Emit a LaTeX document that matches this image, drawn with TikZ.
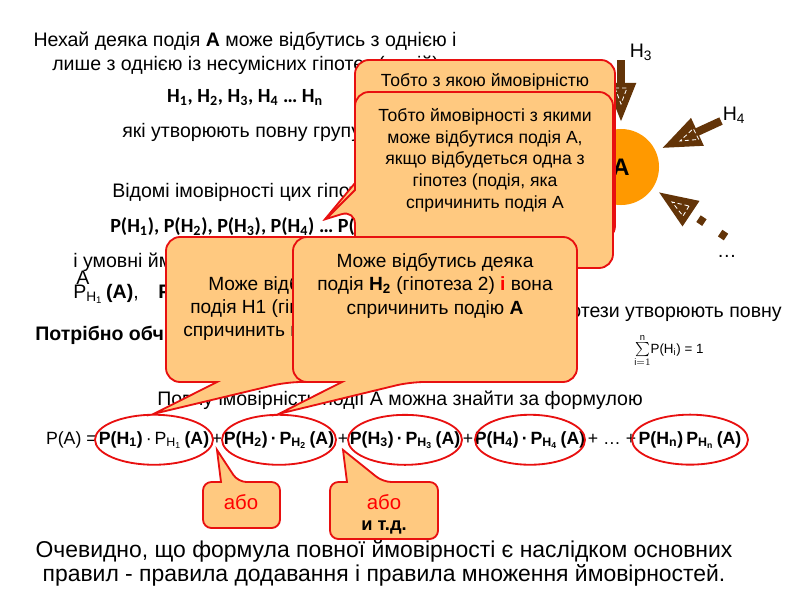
\documentclass[tikz,border=0pt]{standalone}
\usepackage{fontspec}
\setmainfont{Liberation Sans}
\newfontfamily\calibri{Carlito}
\usetikzlibrary{arrows.meta,positioning,calc,shapes.geometric}
\definecolor{bubblefill}{RGB}{255,201,128}
\definecolor{bubbleline}{RGB}{232,16,16}
\definecolor{eventA}{RGB}{255,153,0}
\definecolor{hypo}{RGB}{99,52,8}
\newcommand{\hsub}[1]{H\textsubscript{#1}}
\newcommand{\phsub}[1]{P\textsubscript{H\textsubscript{#1}}}

\begin{document}
\begin{tikzpicture}[x=0.025cm, y=-0.025cm,
  txt/.style={inner sep=0pt, font=\fontsize{13.9}{16}\selectfont},
  term/.style={inner sep=0pt, anchor=base, font=\fontsize{12.6}{15}\selectfont},
  hyp/.style={inner sep=0pt, font=\calibri\bfseries\fontsize{14.3}{16}\selectfont},
  bubble/.style={fill=bubblefill, draw=bubbleline, line width=1.3pt},
  btxt/.style={inner sep=0pt, align=center, font=\fontsize{12.5}{15.3}\selectfont},
  oval/.style={draw=bubbleline, line width=1.3pt},
  hyparrow/.style={draw=hypo, line width=5.7pt, -{Triangle[length=28pt,width=20pt]}, shorten >=4.6pt},
  headmark/.style={draw=white, line width=0.6pt, densely dashed},
]
\useasboundingbox (0,0) rectangle (800,600);

% text of the slide
\node[txt, anchor=base] (intro) at (245,46) {Нехай деяка подія \textbf{А} може відбутись з однією і};
\node[txt, anchor=base west] (intro2) at (52,70) {лише з однією із несумісних гіпотез (подій)};
\node[hyp, anchor=base] (hlist) at (245,102) {\hsub{1}, \hsub{2}, \hsub{3}, \hsub{4} … \hsub{n}};
\node[txt, anchor=base west] (group1) at (122,137) {які утворюють повну групу};
\node[txt, anchor=base west] (known) at (112,197) {Відомі імовірності цих гіпотез};
\node[hyp, anchor=base west] (plist) at (110,232) {P(\hsub{1}), P(\hsub{2}), P(\hsub{3}), P(\hsub{4}) … P(\hsub{n})};
\node[txt, anchor=base west] (cond) at (73,267) {і умовні ймовірності};
\node[txt, anchor=base west] (condA) at (76,284) {А};
\node[txt, anchor=base west] (clist) at (73,298) {\phsub{1}\,\textbf{(A)},\quad \textbf{\phsub{2}}};
\node[txt, anchor=base west, font=\bfseries\fontsize{13.9}{16}\selectfont] (need) at (35,340) {Потрібно обчислити};
\node[txt, anchor=base east] (group2) at (782,317) {Гіпотези утворюють повну};
\node[txt, anchor=base west, font=\fontsize{9.5}{11}\selectfont] (norm) at (634,353) {$\sum\limits_{\mathrm{i}=1}^{\mathrm{n}}$P(H\textsubscript{i}) = 1};
\node[txt, anchor=base west] (total) at (157,405) {Повну імовірність події А можна знайти за формулою};

% formula
\node[term, anchor=base east] (PA) at (97,444) {P(A) =};
\node[term] (t1) at (154,444) {\textbf{P(\hsub{1})}\,·\,\phsub{1}\,\textbf{(A)}};
\node[term] (p1) at (217,444) {+};
\node[term] (t2) at (279,444) {\textbf{P(\hsub{2})\,·\,\phsub{2}\,(A)}};
\node[term] (p2) at (343,444) {+};
\node[term] (t3) at (405,444) {\textbf{P(\hsub{3})\,·\,\phsub{3}\,(A)}};
\node[term] (p3) at (468,444) {+};
\node[term] (t4) at (530,444) {\textbf{P(\hsub{4})\,·\,\phsub{4}\,(A)}};
\node[term] (p4) at (612,444) {+ … +};
\node[term] (t5) at (690,444) {\textbf{P(\hsub{n})\,\phsub{n}\,(A)}};
\draw[oval] (t1.center) ellipse [x radius=59, y radius=25];
\draw[oval] (t2.center) ellipse [x radius=57, y radius=25];
\draw[oval] (t3.center) ellipse [x radius=57, y radius=25];
\draw[oval] (t4.center) ellipse [x radius=55, y radius=25];
\draw[oval] (t5.center) ellipse [x radius=58, y radius=25];
\coordinate (e1top) at ($(t1.center)+(0,-26)$);
\coordinate (e2top) at ($(t2.center)+(0,-26)$);

% event A and hypotheses
\node[circle, fill=eventA, minimum size=1.9cm, inner sep=0pt, font=\bfseries\fontsize{17}{20}\selectfont] (A) at (621,167) {A};
\coordinate (h3tail) at (621,60);
\coordinate (h4tail) at (721,121);
\coordinate (hntail) at (726,237);
\draw[hyparrow] (h3tail) -- (A);
\draw[hyparrow] (h4tail) -- (A);
\draw[hyparrow, dash pattern=on 5pt off 13.5pt] (hntail) -- (A);
\draw[headmark] (615,88) -- (627,88) -- (621,104) -- cycle;
\draw[headmark] (698.7,139.4) -- (693.3,128.6) -- (680,141) -- cycle;
\draw[headmark] (689,206) -- (683,216) -- (672,202) -- cycle;
\node[txt] (H3) at (641,52) {H\textsubscript{3}};
\node[txt] (H4) at (734,115) {H\textsubscript{4}};
\node[txt] (Hdots) at (727,256) {…};

% callouts
\filldraw[bubble] (355,183) [rounded corners=10pt] -- (355,60) -- (615,60) -- (615,240) -- (355,240) -- (355,203) [sharp corners] -- (326,218) -- cycle;
\node[btxt, anchor=base] (why1) at (485,86) {Тобто з якою ймовірністю};
\filldraw[bubble] (355,190) [rounded corners=10pt] -- (355,92) -- (613,92) -- (613,268) -- (355,268) -- (355,210) [sharp corners] -- (326,219) -- cycle;
\node[btxt, anchor=base] (why2) at (485,208) {Тобто ймовірності з якими\\може відбутися подія А,\\якщо відбудеться одна з\\гіпотез (подія, яка\\спричинить подія А};

\filldraw[bubble] (217,382) [rounded corners=10pt] -- (166,382) -- (166,237) -- (420,237) -- (420,382) -- (287,382) [sharp corners] -- (e1top) -- cycle;
\node[btxt, anchor=base west, font=\fontsize{13.6}{16.7}\selectfont] (h1a) at (208,290) {Може відбутись деяка};
\node[btxt, anchor=base west, font=\fontsize{13.6}{16.7}\selectfont] (h1b) at (190,313) {подія H1 (гіпотеза 1) і вона};
\node[btxt, anchor=base west, font=\fontsize{13.6}{16.7}\selectfont] (h1c) at (183,336) {спричинить подію А};
\filldraw[bubble] (342,382) [rounded corners=10pt] -- (293,382) -- (293,237) -- (577,237) -- (577,382) -- (410,382) [sharp corners] -- (e2top) -- cycle;
\node[btxt, anchor=base, font=\fontsize{13.6}{16.7}\selectfont] (h2text) at (435,314) {Може відбутись деяка\\подія \textbf{\hsub{2}} (гіпотеза 2) \textcolor{red}{\textbf{і}} вона\\спричинить подію \textbf{А}};

\filldraw[bubble] (221,482) [rounded corners=6pt] -- (203,482) -- (203,528) -- (280,528) -- (280,482) -- (238,482) [sharp corners] -- ([yshift=-4pt]p1.south) -- cycle;
\node[txt, text=red, font=\fontsize{14.5}{16}\selectfont] (or1) at (241,502) {або};
\filldraw[bubble] (347,482) [rounded corners=6pt] -- (330,482) -- (330,539) -- (438,539) -- (438,482) -- (383,482) [sharp corners] -- ([yshift=-4pt]p2.south) -- cycle;
\node[txt, text=red, font=\fontsize{14.5}{16}\selectfont] (or2) at (384,502) {або};
\node[txt, font=\bfseries\fontsize{13}{15}\selectfont] (etc) at (384,527) {и т.д.};

\node[txt, align=center, anchor=base, font=\fontsize{16.3}{17}\selectfont] (summary) at (384,581) {Очевидно, що формула повної ймовірності є наслідком основних\\правил - правила додавання і правила множення ймовірностей.};
\end{tikzpicture}
\end{document}
